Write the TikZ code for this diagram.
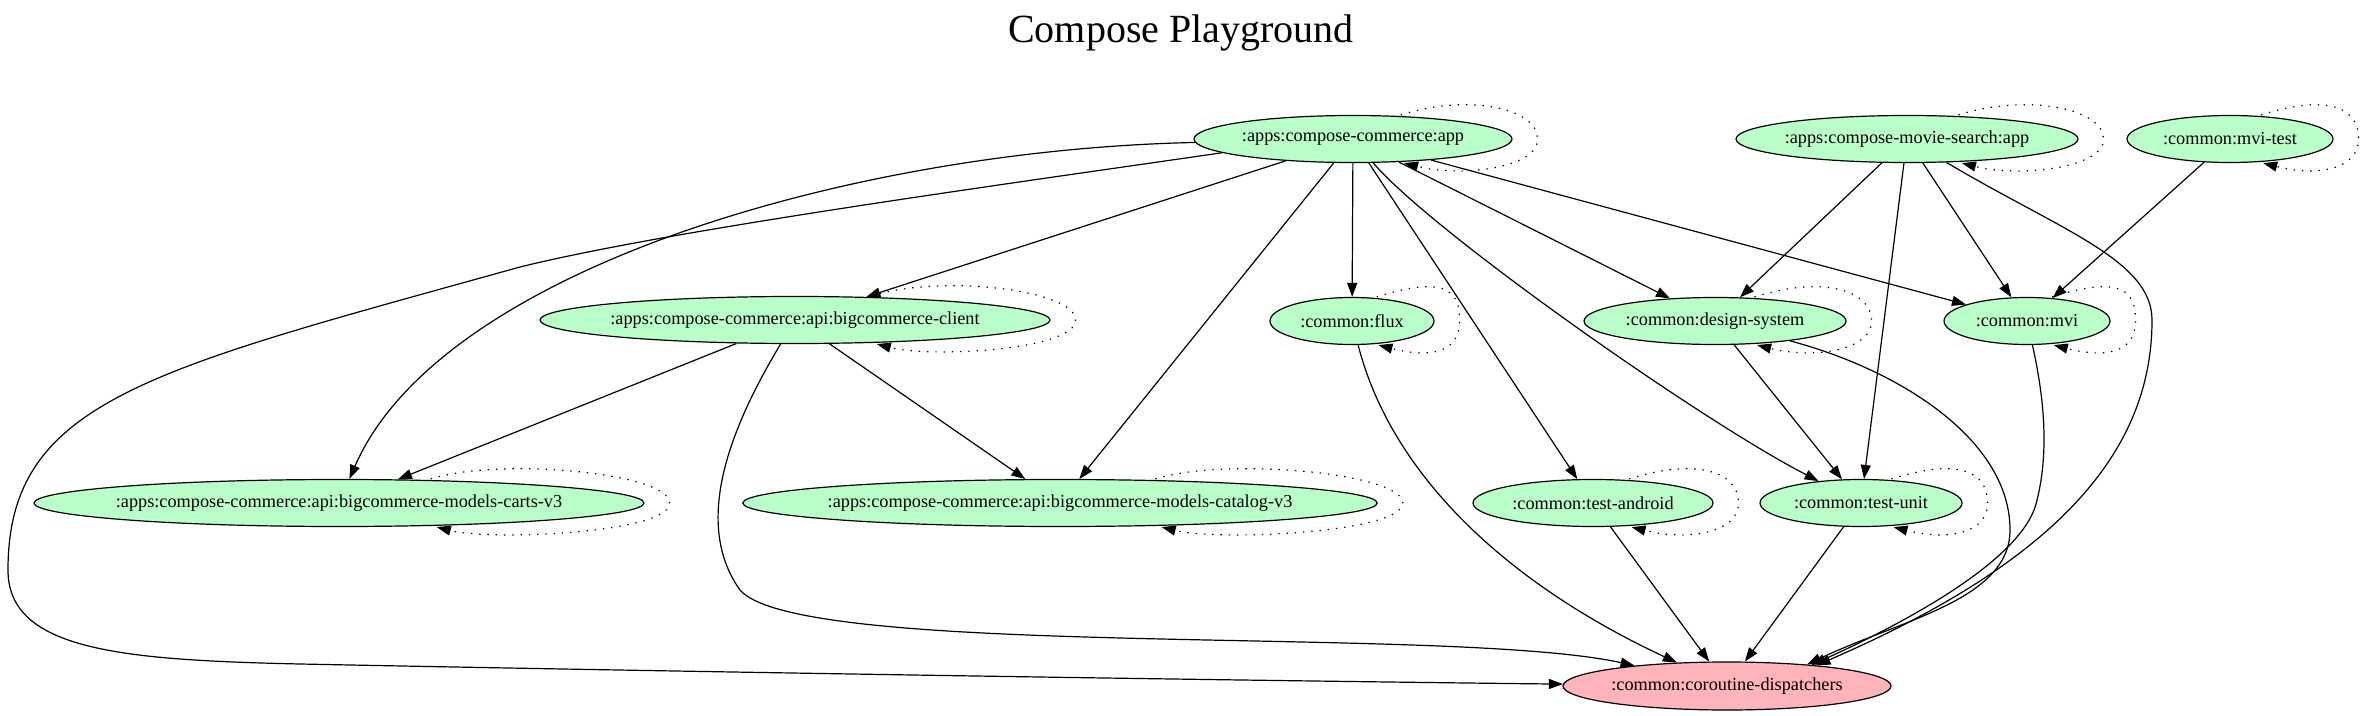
\documentclass[tikz,border=0pt]{standalone}
\usepackage{fontspec}
\setmainfont{Liberation Serif}
\usepackage{tikz}
\usetikzlibrary{arrows.meta,calc,shapes.geometric}
\definecolor{modgreen}{HTML}{BAFFC9}
\definecolor{modpink}{HTML}{FFB3BA}

\begin{document}
\begin{tikzpicture}[x=0.75pt, y=-0.75pt, >={Triangle[length=10.5pt,width=7.5pt]},
  module/.style={ellipse, draw, line width=0.9pt, fill=modgreen, inner xsep=-6pt, inner ysep=0pt,
    minimum height=35.25pt, font=\fontsize{13.7}{16}\selectfont},
  dep/.style={->, line width=0.9pt},
  selfdep/.style={->, line width=0.9pt, dash pattern=on 1pt off 5.2pt}]
  \useasboundingbox (0,0) rectangle (2362,716);
  \node[font=\fontsize{30}{36}\selectfont, anchor=base] (title) at (1181,43) {Compose Playground};
  % Modules
  \node[module, minimum width=238.5pt] (app) at (1353,139) {:apps:compose-commerce:app};
  \node[module, minimum width=256.5pt] (movie) at (1907,139) {:apps:compose-movie-search:app};
  \node[module, minimum width=154.5pt] (mvitest) at (2230,139) {:common:mvi-test};
  \node[module, minimum width=382.5pt] (client) at (795,320) {:apps:compose-commerce:api:bigcommerce-client};
  \node[module, minimum width=123pt] (flux) at (1352,321) {:common:flux};
  \node[module, minimum width=196.5pt] (design) at (1715,321) {:common:design-system};
  \node[module, minimum width=124.5pt] (mvi) at (2027,321) {:common:mvi};
  \node[module, minimum width=457.5pt] (carts) at (339,503) {:apps:compose-commerce:api:bigcommerce-models-carts-v3};
  \node[module, minimum width=474pt] (catalog) at (1060,503) {:apps:compose-commerce:api:bigcommerce-models-catalog-v3};
  \node[module, minimum width=180pt] (testandroid) at (1593,503) {:common:test-android};
  \node[module, minimum width=151.5pt] (testunit) at (1861,503) {:common:test-unit};
  \node[module, fill=modpink, minimum width=246pt, minimum height=36pt] (dispatchers) at (1727,686) {:common:coroutine-dispatchers};
  % Dependencies of the commerce app
  \draw[dep] (app) -- (client);
  \draw[dep] (app) -- (flux);
  \draw[dep] (app) -- (catalog);
  \draw[dep] (app) -- (testandroid);
  \draw[dep] (app) -- (design);
  \draw[dep] (app) -- (mvi);
  \draw[dep] (app) .. controls (1430,230) and (1700,420) .. (testunit);
  \draw[dep] (app) .. controls (850,150) and (440,270) .. (carts);
  \draw[dep] (app.186) .. controls (1000,185) and (670,230) .. (520,267)
    .. controls (150,370) and (8,400) .. (8,570)
    .. controls (8,650) and (120,660) .. (300,664)
    .. controls (700,672) and (1200,680) .. (dispatchers);
  % Dependencies of the movie search app
  \draw[dep] (movie) -- (design);
  \draw[dep] (movie) -- (testunit);
  \draw[dep] (movie) -- (mvi);
  \draw[dep] (movie) .. controls (2060,230) and (2152,260) .. (2152,320)
    .. controls (2152,450) and (2060,560) .. (dispatchers.13);
  \draw[dep] (mvitest) -- (mvi);
  % Middle row
  \draw[dep] (client) -- (carts);
  \draw[dep] (client) -- (catalog);
  \draw[dep] (client) .. controls (735,420) and (690,520) .. (740,590)
    .. controls (800,660) and (1450,625) .. (dispatchers);
  \draw[dep] (flux) .. controls (1390,470) and (1500,580) .. (dispatchers);
  \draw[dep] (design) -- (testunit);
  \draw[dep] (design) .. controls (1900,370) and (2010,440) .. (2010,530)
    .. controls (2010,600) and (1900,620) .. (dispatchers.15);
  \draw[dep] (mvi) .. controls (2047,410) and (2047,460) .. (2037,500)
    .. controls (2025,560) and (1900,625) .. (dispatchers.14);
  % Bottom row
  \draw[dep] (testandroid) -- (dispatchers);
  \draw[dep] (testunit) -- (dispatchers);
  % Self loops
  \foreach \n in {app,movie,mvitest,client,flux,design,mvi,carts,catalog,testandroid,testunit}
    \draw[selfdep] ($(\n.north)!0.3!(\n.north -| \n.east)$) .. controls +(70,-22) and +(0,-30) .. ($(\n.east)+(25,0)$)
      .. controls +(0,30) and +(55,14) .. ($(\n.south)!0.32!(\n.south -| \n.east)$);
\end{tikzpicture}
\end{document}
